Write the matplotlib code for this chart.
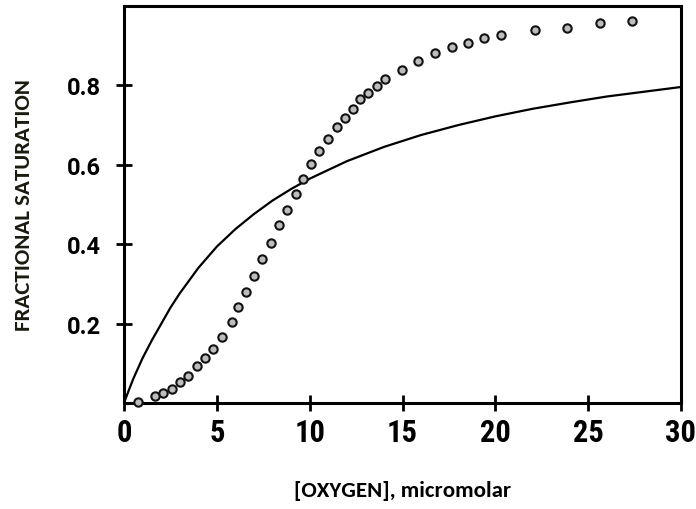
import matplotlib
matplotlib.use("Agg")
import matplotlib.pyplot as plt

# Measured data (open circles)
oxygen_pts = [0.77, 1.67, 2.12, 2.57, 3.02, 3.46, 3.91, 4.36, 4.81, 5.26, 5.80, 6.12,
              6.55, 7.00, 7.45, 7.90, 8.35, 8.80, 9.24, 9.62, 10.07, 10.52, 10.97,
              11.45, 11.90, 12.31, 12.71, 13.16, 13.61, 14.05, 14.97, 15.85, 16.75,
              17.65, 18.54, 19.39, 20.28, 22.13, 23.84, 25.63, 27.37]
sat_pts = [0.003, 0.017, 0.024, 0.035, 0.052, 0.069, 0.094, 0.114, 0.135, 0.166, 0.204,
           0.241, 0.279, 0.319, 0.363, 0.403, 0.449, 0.487, 0.527, 0.565, 0.603, 0.634,
           0.666, 0.696, 0.718, 0.740, 0.767, 0.780, 0.799, 0.815, 0.840, 0.861, 0.881,
           0.896, 0.908, 0.920, 0.927, 0.939, 0.944, 0.956, 0.962]

# Solid curve
oxygen_curve = [0, 0.25, 0.5, 1, 1.5, 2, 2.5, 3, 4, 5, 6, 7, 8, 9, 10, 12, 14, 16, 18,
                20, 22, 24, 26, 28, 30]
sat_curve = [0.0, 0.031, 0.061, 0.113, 0.158, 0.199, 0.240, 0.276, 0.340, 0.394, 0.438,
             0.476, 0.510, 0.539, 0.565, 0.609, 0.645, 0.675, 0.700, 0.722, 0.741,
             0.757, 0.772, 0.784, 0.796]

x_ticks = [0, 5, 10, 15, 20, 25, 30]
y_ticks = [0.2, 0.4, 0.6, 0.8]
y_tick_labels = ["0.2", "0.4", "0.6", "0.8"]

fig = plt.figure(figsize=(6.96, 5.10), dpi=100)
ax = fig.add_axes([124/696, 1 - 404/510, (681-124)/696, (404-7)/510])

ax.plot(oxygen_curve, sat_curve, color="black", lw=1.6, solid_capstyle="round", zorder=2)
ax.plot(oxygen_pts, sat_pts, linestyle="none", marker="o", markersize=6,
        markerfacecolor="#bdbdbd", markeredgecolor="#111111", markeredgewidth=1.5, zorder=3,
        clip_on=False)

ax.set_xlim(0, 30)
ax.set_ylim(0, 1.0)
for s in ax.spines.values():
    s.set_linewidth(2.2)
    s.set_color("black")

ax.set_xticks(x_ticks)
ax.set_xticklabels([str(v) for v in x_ticks],
                   fontdict=dict(family=["Roboto Condensed", "DejaVu Sans"],
                                 weight="bold", size=22))
ax.set_yticks(y_ticks)
ax.set_yticklabels(y_tick_labels,
                   fontdict=dict(family=["Roboto", "DejaVu Sans"],
                                 weight="bold", size=17))
ax.tick_params(axis="x", direction="inout", length=12, width=2, pad=4)
ax.tick_params(axis="y", direction="inout", length=11, width=2, pad=11)

ax.set_xlabel("[OXYGEN], micromolar", family=["Carlito", "DejaVu Sans"],
              weight="bold", size=16.5, labelpad=24)
ax.set_ylabel("FRACTIONAL SATURATION", family=["Carlito", "DejaVu Sans"],
              weight="bold", size=16.5, labelpad=24, color="#1a1a10")

fig.savefig("out.png", dpi=100)
